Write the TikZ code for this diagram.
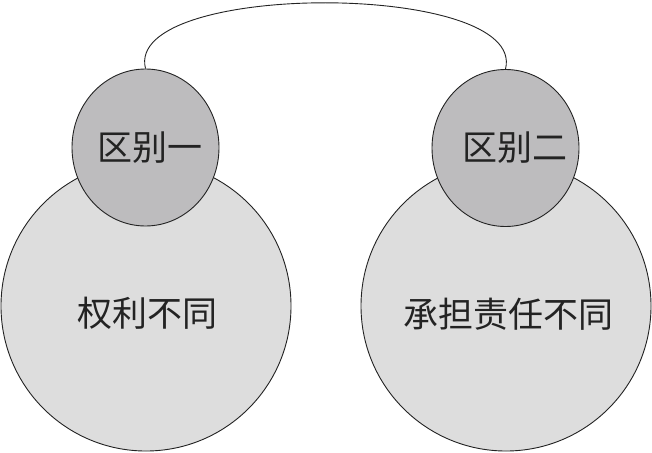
\documentclass[tikz,border=0pt]{standalone}
\usepackage{fontspec}
\newfontfamily\cjk{Noto Sans CJK SC}
\usetikzlibrary{shapes.geometric,calc}
\definecolor{bigfill}{RGB}{221,221,221}
\definecolor{smallfill}{RGB}{189,188,190}
\definecolor{edge}{RGB}{35,35,35}
\tikzset{
  bigcirc/.style={circle,draw=edge,fill=bigfill,line width=0.9pt,minimum size=290pt,inner sep=0pt},
  smallell/.style={ellipse,draw=edge,fill=smallfill,line width=0.9pt,minimum width=147pt,minimum height=157pt,inner sep=0pt},
  lbl/.style={font=\cjk\fontsize{35pt}{38pt}\selectfont,text=edge,inner sep=0pt},
  link/.style={draw=edge,line width=0.9pt}
}
\begin{document}
\begin{tikzpicture}[x=1pt,y=-1pt]
\useasboundingbox (0,0) rectangle (652,452);
\node[bigcirc] (b1) at (146,306) {};
\node[bigcirc] (b2) at (506,306) {};
\node[smallell] (s1) at (145.5,147.5) {};
\node[smallell] (s2) at (505.5,148) {};
\draw[link] (s1.north) .. controls ($(s1.north)+(-22,-88)$) and ($(s2.north)+(22,-88)$) .. (s2.north);
\node[lbl] (t1) at (150,148) {区别一};
\node[lbl] (t2) at (515,148) {区别二};
\node[lbl] (t3) at (147,313) {权利不同};
\node[lbl] (t4) at (508,314) {承担责任不同};
\end{tikzpicture}
\end{document}
